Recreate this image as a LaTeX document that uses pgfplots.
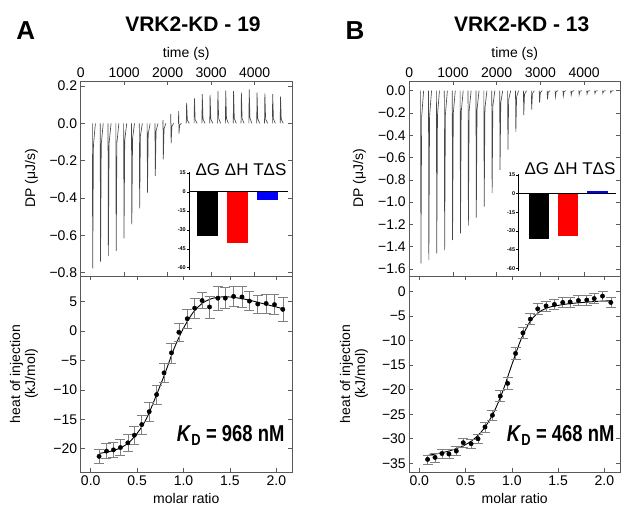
\documentclass[border=0pt]{standalone}
\usepackage{fontspec}
\setmainfont{Liberation Sans}
\usepackage{graphicx}
\usepackage{pgfplots}
\usepackage{pgfplotstable}
\pgfplotsset{compat=1.18}

\newcommand{\fs}[1]{\fontsize{#1}{#1}\selectfont}

% raw thermograms (time s, DP uJ/s), one spike per injection
\pgfplotstableread{
t dp
268 0
276 -0.777
293 -0.117
338 0
nan nan
448 0
456 -0.741
473 -0.111
518 0
nan nan
628 0
636 -0.711
653 -0.107
698 0
nan nan
808 0
816 -0.684
833 -0.103
878 0
nan nan
988 0
996 -0.616
1013 -0.092
1058 0
nan nan
1168 0
1176 -0.541
1193 -0.081
1238 0
nan nan
1348 0
1356 -0.455
1373 -0.068
1418 0
nan nan
1528 0
1536 -0.371
1553 -0.056
1598 0
nan nan
1708 0
1716 -0.282
1733 -0.042
1778 0
nan nan
1888 0
1893 0.018
1900 -0.193
1917 -0.029
1958 0
nan nan
2068 0
2073 0.05
2080 -0.107
2097 -0.016
2138 0
nan nan
2248 0
2253 0.065
2260 -0.055
2277 -0.008
2318 0
nan nan
2428 0
2436 0.11
2453 0.017
2498 0
nan nan
2608 0
2616 0.134
2633 0.020
2678 0
nan nan
2788 0
2796 0.157
2813 0.024
2858 0
nan nan
2968 0
2976 0.152
2993 0.023
3038 0
nan nan
3148 0
3156 0.173
3173 0.026
3218 0
nan nan
3328 0
3336 0.175
3353 0.026
3398 0
nan nan
3508 0
3516 0.173
3533 0.026
3578 0
nan nan
3688 0
3696 0.164
3713 0.025
3758 0
nan nan
3868 0
3876 0.182
3893 0.027
3938 0
nan nan
4048 0
4056 0.164
4073 0.025
4118 0
nan nan
4228 0
4236 0.161
4253 0.024
4298 0
nan nan
4408 0
4416 0.157
4433 0.024
4478 0
nan nan
4588 0
4596 0.143
4613 0.021
4658 0
}\Athermo

\pgfplotstableread{
t dp
258 0
266 -1.55
283 -0.233
328 0
nan nan
439 0
447 -1.52
464 -0.228
509 0
nan nan
620 0
628 -1.46
645 -0.219
690 0
nan nan
801 0
809 -1.43
826 -0.215
871 0
nan nan
982 0
990 -1.34
1007 -0.201
1052 0
nan nan
1163 0
1171 -1.28
1188 -0.192
1233 0
nan nan
1344 0
1352 -1.21
1369 -0.182
1414 0
nan nan
1525 0
1533 -1.14
1550 -0.171
1595 0
nan nan
1706 0
1714 -1.04
1731 -0.156
1776 0
nan nan
1887 0
1895 -0.92
1912 -0.138
1957 0
nan nan
2068 0
2076 -0.71
2093 -0.107
2138 0
nan nan
2249 0
2257 -0.53
2274 -0.080
2319 0
nan nan
2430 0
2438 -0.37
2455 -0.056
2500 0
nan nan
2611 0
2619 -0.22
2636 -0.033
2681 0
nan nan
2792 0
2800 -0.17
2817 -0.026
2862 0
nan nan
2973 0
2981 -0.108
2998 -0.016
3043 0
nan nan
3154 0
3162 -0.078
3179 -0.012
3224 0
nan nan
3335 0
3343 -0.054
3360 -0.008
3405 0
nan nan
3516 0
3524 -0.048
3541 -0.007
3586 0
nan nan
3697 0
3705 -0.039
3722 -0.006
3767 0
nan nan
3878 0
3886 -0.036
3903 -0.005
3948 0
nan nan
4059 0
4067 -0.030
4084 -0.005
4129 0
nan nan
4240 0
4248 -0.024
4265 -0.004
4310 0
nan nan
4421 0
4429 -0.024
4446 -0.004
4491 0
nan nan
4602 0
4610 -0.018
4627 -0.003
4672 0
}\Bthermo

% integrated heats (molar ratio, kJ/mol, error)
\pgfplotstableread{
x y e
0.09 -21.3 1.2
0.17 -20.4 1.3
0.245 -20.2 1.3
0.32 -19.8 1.4
0.40 -19.0 1.5
0.47 -17.7 1.5
0.55 -15.9 1.6
0.63 -13.7 1.6
0.71 -10.8 1.6
0.79 -7.1 1.6
0.87 -3.7 1.7
0.95 -0.2 1.6
1.04 2.1 1.6
1.12 3.9 1.7
1.20 5.2 1.4
1.28 4.1 1.9
1.37 5.6 2.0
1.45 5.6 1.8
1.54 5.9 1.7
1.63 5.8 1.8
1.71 5.1 1.6
1.80 4.6 1.5
1.89 4.7 1.6
1.98 4.5 1.7
2.07 3.7 2.1
}\Aiso

\pgfplotstableread{
x y
0.09 -20.8
0.2 -20.5
0.3 -20.0
0.4 -19.1
0.5 -17.4
0.6 -14.9
0.7 -11.2
0.8 -7.2
0.9 -2.9
1.0 0.5
1.1 3.1
1.2 4.7
1.3 5.5
1.4 5.8
1.5 5.8
1.6 5.6
1.7 5.3
1.8 4.9
1.9 4.5
2.0 4.1
2.07 3.8
}\Afit

\pgfplotstableread{
x y e
0.09 -34.2 0.9
0.17 -33.8 0.9
0.245 -33.0 0.9
0.32 -33.1 0.9
0.40 -32.5 0.9
0.475 -30.8 0.9
0.56 -31.0 0.9
0.635 -30.0 0.9
0.71 -27.6 1.0
0.79 -25.2 1.0
0.875 -21.3 1.1
0.955 -18.7 1.2
1.04 -12.6 1.2
1.12 -8.4 1.2
1.20 -5.6 1.1
1.28 -3.5 1.1
1.37 -2.9 1.0
1.46 -2.6 1.0
1.55 -2.2 1.0
1.63 -2.1 1.0
1.72 -1.8 1.0
1.81 -1.7 1.0
1.89 -1.4 1.0
1.98 -0.9 1.0
2.07 -2.2 1.0
}\Biso

\pgfplotstableread{
x y
0.09 -33.4
0.2 -33.0
0.3 -32.6
0.4 -32.0
0.5 -31.2
0.6 -29.9
0.7 -27.9
0.8 -24.8
0.9 -20.4
1.0 -14.9
1.1 -9.7
1.2 -6.0
1.3 -4.1
1.4 -3.2
1.5 -2.8
1.6 -2.5
1.7 -2.3
1.8 -2.15
1.9 -2.0
2.0 -1.9
2.07 -1.85
}\Bfit

\pgfplotsset{
  itc/.style={
    scale only axis,
    axis line style={black!65, line width=0.6pt},
    every tick/.style={black!65, line width=0.6pt},
    major tick length=4pt,
    tick label style={font=\fs{14}},
  },
  thermo/.style={itc, height=195pt, xmin=0,
    xtick={0,1000,2000,3000,4000}, xticklabels={0,1000,2000,3000,4000},
    xticklabel pos=upper, unbounded coords=jump},
  iso/.style={itc, height=196pt, xmin=-0.108, xmax=2.169,
    xtick={0,0.5,1,1.5,2}, xticklabels={0.0,0.5,1.0,1.5,2.0}},
  inset/.style={scale only axis, hide x axis, axis y line*=left,
    ymin=-62, ymax=16, ytick={-60,-45,-30,-15,0,15},
    yticklabels={-60,-45,-30,-15,0,15},
    tick align=outside, major tick length=2pt,
    tick label style={font=\fs{5.5}\bfseries, inner sep=1pt},
    axis line style={black, line width=0.8pt}, every tick/.style={black}},
  trace/.style={black!72, line width=0.65pt},
  pts/.style={only marks, mark=*, mark size=2.2pt, black,
    error bars/.cd, y dir=both, y explicit,
    error bar style={black!50, line width=0.6pt},
    error mark options={rotate=90, black!50, mark size=5pt, line width=0.6pt}},
  fit/.style={black, line width=0.9pt, smooth},
}

\begin{document}
\begin{tikzpicture}[x=1pt,y=1pt]
\useasboundingbox (0,0) rectangle (622,510);

% ---------- panel A ----------
\begin{axis}[thermo, at={(80.7pt,234pt)}, anchor=south west, width=211.3pt,
  xmax=4860, ymin=-0.818, ymax=0.227,
  ytick={-0.8,-0.6,-0.4,-0.2,0,0.2}, yticklabels={−0.8,−0.6,−0.4,−0.2,0.0,0.2}]
\addplot[trace] table[x=t, y=dp] {\Athermo};
\end{axis}

\begin{axis}[iso, at={(80.7pt,38pt)}, anchor=south west, width=211.3pt,
  ymin=-23.96, ymax=9.37,
  ytick={-20,-15,-10,-5,0,5}, yticklabels={−20,−15,−10,−5,0,5}]
\addplot[fit] table[x=x, y=y] {\Afit};
\addplot[pts] table[x=x, y=y, y error=e] {\Aiso};
\end{axis}

\begin{axis}[inset, at={(189pt,239.8pt)}, anchor=south west, width=99pt, height=98.5pt,
  xmin=-0.62, xmax=2.7]
\addplot[ybar, bar width=19.6pt, bar shift=0pt, fill=black, draw=black] coordinates {(0,-34)};
\addplot[ybar, bar width=19.6pt, bar shift=0pt, fill=red, draw=red] coordinates {(1,-40)};
\addplot[ybar, bar width=19.6pt, bar shift=0pt, fill=blue, draw=blue] coordinates {(2,-6)};
\addplot[black, line width=1pt] coordinates {(-0.62,0) (2.7,0)};
\end{axis}

% ---------- panel B ----------
\begin{axis}[thermo, at={(409.3pt,234pt)}, anchor=south west, width=210.7pt,
  xmax=4821, ymin=-1.663, ymax=0.087,
  ytick={-1.6,-1.4,-1.2,-1,-0.8,-0.6,-0.4,-0.2,0},
  yticklabels={−1.6,−1.4,−1.2,−1.0,−0.8,−0.6,−0.4,−0.2,0.0}]
\addplot[trace] table[x=t, y=dp] {\Bthermo};
\end{axis}

\begin{axis}[iso, at={(409.3pt,38pt)}, anchor=south west, width=210.7pt,
  ymin=-36.77, ymax=3.2,
  ytick={-35,-30,-25,-20,-15,-10,-5,0},
  yticklabels={−35,−30,−25,−20,−15,−10,−5,0}]
\addplot[fit] table[x=x, y=y] {\Bfit};
\addplot[pts] table[x=x, y=y, y error=e] {\Biso};
\end{axis}

\begin{axis}[inset, at={(518.3pt,239.2pt)}, anchor=south west, width=97.7pt, height=97pt,
  xmin=-0.70, xmax=2.64]
\addplot[ybar, bar width=19.3pt, bar shift=0pt, fill=black, draw=black] coordinates {(0,-35.6)};
\addplot[ybar, bar width=19.3pt, bar shift=0pt, fill=red, draw=red] coordinates {(1,-33.6)};
\addplot[ybar, bar width=19.3pt, bar shift=0pt, fill=blue, draw=blue] coordinates {(2,2.0)};
\addplot[black, line width=1pt] coordinates {(-0.70,0) (2.64,0)};
\end{axis}

% ---------- text ----------
\node[anchor=base, font=\fs{26}\bfseries, inner sep=0] at (25.8,470.7) {A};
\node[anchor=base, font=\fs{26}\bfseries, inner sep=0] at (355,470.7) {B};
\node[anchor=base, font=\fs{21}\bfseries, inner sep=0] at (193,478.3) {VRK2-KD - 19};
\node[anchor=base, font=\fs{21}\bfseries, inner sep=0] at (521.7,478.3) {VRK2-KD - 13};

\node[anchor=base, font=\fs{14}, inner sep=0] at (186.3,452.5) {time (s)};
\node[anchor=base, font=\fs{14}, inner sep=0] at (514.7,452.5) {time (s)};
\node[anchor=base, font=\fs{14}, inner sep=0] at (186.3,6) {molar ratio};
\node[anchor=base, font=\fs{14}, inner sep=0] at (514.7,6) {molar ratio};

\node[anchor=base, rotate=90, font=\fs{14}, inner sep=0] at (35,331.5) {DP (μJ/s)};
\node[anchor=base, rotate=90, font=\fs{14}, inner sep=0] at (363,331.5) {DP (μJ/s)};
\node[anchor=base, rotate=90, font=\fs{14}, inner sep=0] at (20,136) {heat of injection};
\node[anchor=base, rotate=90, font=\fs{14}, inner sep=0] at (35,136) {(kJ/mol)};
\node[anchor=base, rotate=90, font=\fs{14}, inner sep=0] at (350,136) {heat of injection};
\node[anchor=base, rotate=90, font=\fs{14}, inner sep=0] at (365,136) {(kJ/mol)};

\node[anchor=base, font=\fs{17}, inner sep=0] at (241,334) {ΔG ΔH TΔS};
\node[anchor=base, font=\fs{17}, inner sep=0] at (570,335) {ΔG ΔH TΔS};

\node[anchor=base west, inner sep=0] at (176.7,68.3)
  {\scalebox{0.8}[1]{\fs{23}\bfseries\textit{K}\textsubscript{D} = 968 nM}};
\node[anchor=base west, inner sep=0] at (506.7,68.3)
  {\scalebox{0.8}[1]{\fs{23}\bfseries\textit{K}\textsubscript{D} = 468 nM}};
\end{tikzpicture}
\end{document}
